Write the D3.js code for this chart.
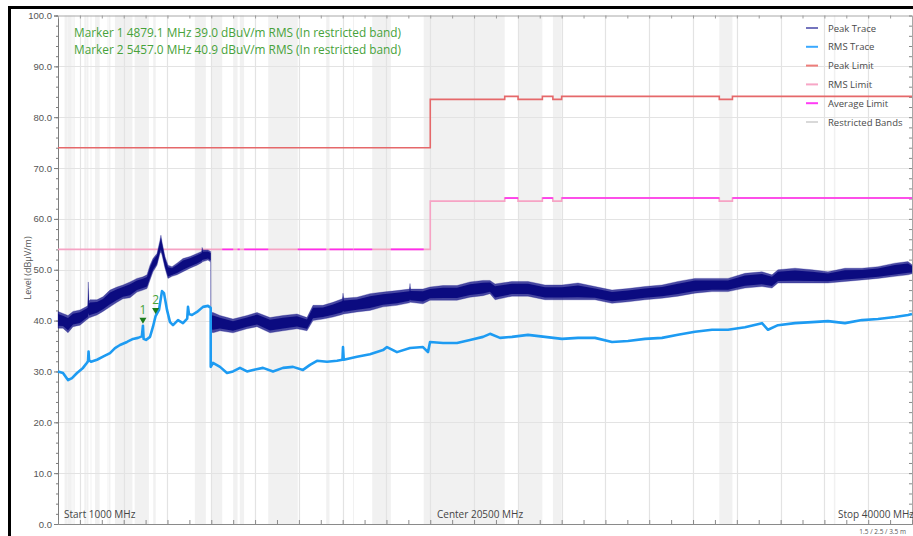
<!DOCTYPE html>
<html>
<head>
<meta charset="utf-8">
<script src="https://cdn.jsdelivr.net/npm/d3@7"></script>
<style>
  html, body { margin: 0; padding: 0; background: #fff; }
  svg { display: block; font-family: "Open Sans", "Noto Sans", "DejaVu Sans", sans-serif; }
</style>
</head>
<body>
<svg id="chart" width="913" height="536"></svg>
<script>
// ---- Sweep settings ----
const startFreq = 1000;     // MHz
const stopFreq = 40000;     // MHz
const centerFreq = 20500;   // MHz
const levelTicks = [0, 10, 20, 30, 40, 50, 60, 70, 80, 90, 100];

// ---- Restricted bands (MHz) ----
const bandStart = [1300, 1435, 1660, 1718.8, 2200, 2310, 2483.5, 2690, 3260, 3332, 3345.8, 3600, 4500, 5350, 7250, 8025, 9000, 9300, 10600, 13250, 14470, 15350, 17700, 22010, 23600, 31200, 36430];
const bandStop  = [1427, 1626.5, 1710, 1722.2, 2300, 2390, 2500, 2900, 3267, 3339, 3358, 4400, 5150, 5460, 7750, 8500, 9200, 9500, 11950, 13400, 14500, 16200, 21400, 23120, 24000, 31800, 36500];

// ---- Limit lines (step values per segment) ----
const limitBreaks = [1000, 18000, 21400, 22010, 23120, 23600, 24000, 31200, 31800, 40000];
const peakLimit   = [74.0, 83.5, 84.1, 83.5, 84.1, 83.5, 84.1, 83.5, 84.1];
const rmsLimit    = [54.0, 63.5, 64.1, 63.5, 64.1, 63.5, 64.1, 63.5, 64.1];
// Average limit, drawn outside the restricted bands
const avgStart = [8500, 9200, 9500, 11950, 13400, 14500, 16200, 21400, 23120, 24000, 31800];
const avgStop  = [9000, 9300, 10600, 13250, 14470, 15350, 17700, 22010, 23600, 31200, 40000];
const avgLevel = [54, 54, 54, 54, 54, 54, 54, 64.1, 64.1, 64.1, 64.1];

// ---- Peak trace: min / max envelope of the detector (dBuV/m) ----
const peakFreq = [1000, 1228, 1457, 1685, 2005, 2324, 2360, 2385, 2410, 2461, 2781, 3055, 3375, 3694, 3968, 4288, 4607, 4881, 5064, 5201, 5338, 5521, 5658, 5700, 5749, 5886, 6023, 6206, 6435, 6708, 7028, 7348, 7560, 7580, 7622, 7850, 7973, 7975, 8078, 8398, 8992, 9631, 10088, 10682, 11275, 11914, 12371, 12645, 13101, 13558, 13990, 14015, 14050, 14654, 15248, 15842, 16481, 17050, 17075, 17100, 17668, 17988, 18582, 19221, 19815, 20408, 20728, 20960, 21733, 22463, 23240, 24016, 24747, 25523, 26300, 27030, 27806, 28583, 29313, 30089, 30866, 31597, 32373, 33149, 33606, 33880, 34656, 35433, 36163, 36940, 37716, 38447, 39223, 39817, 40000];
const peakLow  = [38.5, 38.5, 37.6, 38.8, 39.1, 40.2, 40.3, 40.4, 40.5, 40.6, 41.1, 41.8, 42.7, 43.6, 44.3, 44.5, 45.6, 46.0, 46.3, 48.0, 49.6, 50.9, 53.2, 53.5, 52.9, 50.3, 48.3, 48.7, 49.0, 49.6, 50.3, 50.9, 51.4, 51.5, 51.6, 51.9, 51.5, 37.8, 37.6, 38.0, 37.6, 38.4, 38.8, 37.6, 38.0, 38.4, 38.0, 40.0, 40.3, 40.7, 41.2, 41.3, 41.3, 41.7, 42.0, 42.7, 43.0, 43.5, 43.6, 43.6, 43.3, 44.0, 44.0, 44.0, 44.6, 44.9, 45.3, 44.1, 44.8, 44.8, 44.1, 44.1, 44.1, 44.1, 43.4, 43.7, 44.1, 44.4, 44.8, 45.4, 45.7, 45.7, 46.4, 46.7, 46.4, 47.4, 47.4, 47.4, 47.4, 47.7, 48.0, 48.3, 48.7, 49.0, 49.2];
const peakHigh = [41.8, 41.4, 41.0, 41.8, 42.1, 42.8, 43.0, 47.6, 43.8, 44.1, 44.1, 44.7, 46.0, 46.6, 47.0, 47.6, 48.3, 48.6, 49.0, 50.9, 52.2, 53.2, 55.8, 56.8, 55.5, 52.6, 50.9, 50.6, 51.3, 52.2, 52.6, 53.2, 53.6, 54.4, 53.9, 53.9, 53.6, 41.6, 41.6, 41.0, 40.3, 41.0, 41.6, 40.6, 41.0, 41.3, 40.6, 43.0, 43.0, 43.6, 44.3, 45.4, 44.4, 44.6, 45.3, 45.6, 45.9, 46.2, 47.3, 46.2, 46.2, 46.6, 46.9, 46.9, 47.6, 47.9, 47.9, 47.2, 47.7, 47.7, 47.0, 47.0, 47.4, 46.7, 46.0, 46.3, 46.7, 47.0, 47.7, 48.3, 48.3, 48.3, 49.3, 49.6, 49.0, 50.0, 50.3, 50.0, 49.6, 50.3, 50.3, 50.6, 51.3, 51.6, 51.0];

// ---- RMS trace (dBuV/m) ----
const rmsFreq  = [1000, 1228, 1457, 1639, 1868, 2142, 2324, 2370, 2395, 2420, 2507, 2781, 3055, 3375, 3603, 3831, 4151, 4425, 4653, 4830, 4879, 4910, 5019, 5201, 5338, 5457, 5612, 5749, 5841, 5978, 6115, 6252, 6480, 6708, 6900, 6937, 6980, 7119, 7348, 7622, 7850, 7973, 7975, 8078, 8398, 8718, 8992, 9311, 9631, 9905, 10362, 10818, 11275, 11732, 12188, 12508, 12828, 13284, 13741, 13990, 14015, 14050, 14654, 15248, 15842, 16024, 16481, 17075, 17668, 17897, 17990, 18582, 19221, 19815, 20408, 20728, 21185, 21733, 22463, 23240, 24016, 24747, 25523, 26300, 27030, 27806, 28583, 29313, 30089, 30866, 31597, 32373, 33149, 33423, 33880, 34656, 35433, 36163, 36940, 37716, 38447, 39223, 39817, 40000];
const rmsLevel = [30.0, 29.7, 28.3, 28.7, 29.7, 30.7, 31.7, 32.0, 33.9, 32.2, 31.9, 32.3, 32.9, 33.6, 34.6, 35.2, 35.8, 36.4, 36.6, 36.9, 39.0, 36.4, 36.2, 36.8, 38.8, 40.9, 42.1, 45.8, 45.4, 42.1, 39.7, 39.1, 40.1, 39.5, 40.4, 42.7, 41.3, 41.1, 41.7, 42.7, 42.9, 42.5, 30.9, 31.7, 30.9, 29.7, 30.0, 30.7, 30.0, 30.3, 30.7, 30.0, 30.7, 30.9, 30.3, 31.3, 32.1, 31.9, 32.1, 32.3, 34.8, 32.3, 32.9, 33.4, 34.2, 34.8, 33.8, 34.6, 34.8, 33.8, 35.8, 35.6, 35.6, 36.2, 36.8, 37.4, 36.6, 36.8, 37.2, 36.8, 36.4, 36.6, 36.6, 35.8, 36.0, 36.4, 36.6, 37.2, 37.8, 38.2, 38.2, 38.7, 39.5, 38.2, 39.1, 39.5, 39.7, 39.9, 39.5, 40.1, 40.3, 40.7, 41.1, 41.3];

// ---- Markers ----
const markerIds   = ["1", "2"];
const markerFreq  = [4879.1, 5457.0];
const markerLevel = [39.0, 40.9];

// ---- Legend ----
const legendNames  = ["Peak Trace", "RMS Trace", "Peak Limit", "RMS Limit", "Average Limit", "Restricted Bands"];
const legendColors = ["#7474bd", "#3aa9ff", "#ee7d7a", "#f7a6c6", "#ff3cf5", "#d9d9d9"];

// ---- Colours ----
const peakColor = "#0b0b80";
const peakHaloColor = "#1c1c8c";
const rmsColor = "#1d9bf2";
const peakLimitColor = "#e5686a";
const rmsLimitColor = "#f6a3c4";
const avgLimitColor = "#ff2cf0";
const bandColor = "#f1f1f1";
const gridColor = "#e3e3e3";
const markerColor = "#1c7c1c";
const markerTextColor = "#47a23a";

const svg = d3.select("#chart");
const plot = { left: 58, right: 912, top: 15.5, bottom: 524 };

const x = d3.scaleLinear().domain([startFreq, stopFreq]).range([plot.left, plot.right]);
const y = d3.scaleLinear().domain([0, 100]).range([plot.bottom, plot.top]);

// restricted bands
svg.append("g").selectAll("rect")
  .data(d3.range(bandStart.length))
  .join("rect")
  .attr("x", i => x(bandStart[i]))
  .attr("width", i => Math.max(1, x(bandStop[i]) - x(bandStart[i])))
  .attr("y", plot.top)
  .attr("height", plot.bottom - plot.top)
  .attr("fill", bandColor);

// grid
const gridX = d3.range(2000, stopFreq, 2000);
const grid = svg.append("g").attr("stroke", gridColor).attr("stroke-width", 1.2);
grid.selectAll("line.v").data(gridX).join("line")
  .attr("x1", d => Math.round(x(d)) + 0.5).attr("x2", d => Math.round(x(d)) + 0.5)
  .attr("y1", plot.top).attr("y2", plot.bottom);
grid.selectAll("line.h").data(levelTicks.filter(d => d > 0 && d < 100)).join("line")
  .attr("y1", d => Math.round(y(d)) + 0.5).attr("y2", d => Math.round(y(d)) + 0.5)
  .attr("x1", plot.left).attr("x2", plot.right);

// axes
const minorLevels = d3.range(0, 101, 2);
const freqTicks = d3.range(2000, stopFreq, 1000);

const leftAxis = svg.append("g").attr("transform", `translate(${plot.left},0)`)
  .call(d3.axisLeft(y).tickValues(levelTicks).tickFormat(d3.format(".1f")).tickSize(4).tickPadding(2));
leftAxis.select(".domain").attr("stroke", "#7d7d7d");
leftAxis.selectAll(".tick line").attr("stroke", "#7d7d7d");
leftAxis.selectAll("text").attr("fill", "#555").style("font-size", "9.5px");

svg.append("g").attr("transform", `translate(${plot.left},0)`)
  .call(d3.axisLeft(y).tickValues(minorLevels).tickFormat("").tickSize(2))
  .call(g => g.select(".domain").remove())
  .selectAll("line").attr("stroke", "#7d7d7d");

const rightAxis = svg.append("g").attr("transform", `translate(${plot.right},0)`)
  .call(d3.axisRight(y).tickValues(minorLevels).tickFormat("").tickSize(-3));
rightAxis.select(".domain").attr("stroke", "#a8a8a8");
rightAxis.selectAll("line").attr("stroke", "#8a8a8a");

const bottomAxis = svg.append("g").attr("transform", `translate(0,${plot.bottom})`)
  .call(d3.axisBottom(x).tickValues(freqTicks).tickFormat("").tickSize(-4));
bottomAxis.select(".domain").attr("stroke", "#8a8a8a");
bottomAxis.selectAll("line").attr("stroke", "#8a8a8a");

const topAxis = svg.append("g").attr("transform", `translate(0,${plot.top})`)
  .call(d3.axisTop(x).tickValues(freqTicks).tickFormat("").tickSize(-3));
topAxis.select(".domain").attr("stroke", "#a8a8a8");
topAxis.selectAll("line").attr("stroke", "#9a9a9a");

// limit lines (step functions)
function stepPoints(values) {
  const pts = values.map((v, i) => [limitBreaks[i], v]);
  pts.push([limitBreaks[limitBreaks.length - 1], values[values.length - 1]]);
  return pts;
}
const stepLine = d3.line().x(d => x(d[0])).y(d => y(d[1])).curve(d3.curveStepAfter);

svg.append("path").datum(stepPoints(rmsLimit))
  .attr("d", stepLine).attr("fill", "none")
  .attr("stroke", rmsLimitColor).attr("stroke-width", 1.6);

svg.append("g").selectAll("line")
  .data(d3.range(avgStart.length))
  .join("line")
  .attr("x1", i => x(avgStart[i])).attr("x2", i => x(avgStop[i]))
  .attr("y1", i => y(avgLevel[i])).attr("y2", i => y(avgLevel[i]))
  .attr("stroke", avgLimitColor).attr("stroke-width", 1.6);

svg.append("path").datum(stepPoints(peakLimit))
  .attr("d", stepLine).attr("fill", "none")
  .attr("stroke", peakLimitColor).attr("stroke-width", 1.6);

// peak trace: full min/max envelope as a soft halo, denser core inside it
const peakIdx = d3.range(peakFreq.length);
const spanAt = i => peakHigh[i] - peakLow[i];
const halo = d3.area()
  .x(i => x(peakFreq[i]))
  .y0(i => y(peakLow[i]))
  .y1(i => y(peakHigh[i]));
const core = d3.area()
  .x(i => x(peakFreq[i]))
  .y0(i => y(peakLow[i] + 0.15 * spanAt(i)))
  .y1(i => y(peakHigh[i] - 0.15 * spanAt(i)));
svg.append("path").datum(peakIdx)
  .attr("d", halo)
  .attr("fill", peakHaloColor).attr("fill-opacity", 0.8)
  .attr("stroke", peakHaloColor).attr("stroke-opacity", 0.3).attr("stroke-width", 1)
  .attr("stroke-linejoin", "round");
svg.append("path").datum(peakIdx)
  .attr("d", core)
  .attr("fill", peakColor);

// rms trace
const rmsLine = d3.line()
  .x(i => x(rmsFreq[i]))
  .y(i => y(rmsLevel[i]));
svg.append("path").datum(d3.range(rmsFreq.length))
  .attr("d", rmsLine).attr("fill", "none")
  .attr("stroke", rmsColor).attr("stroke-width", 2.6)
  .attr("stroke-linejoin", "round");

// markers
const mk = svg.append("g");
markerIds.forEach((id, i) => {
  const mx = x(markerFreq[i]);
  const my = y(markerLevel[i]);
  mk.append("path")
    .attr("d", `M${mx - 3.5},${my - 8} L${mx + 3.5},${my - 8} L${mx},${my - 2} Z`)
    .attr("fill", markerColor);
  mk.append("text")
    .attr("x", mx).attr("y", my - 12)
    .attr("text-anchor", "middle")
    .attr("fill", markerTextColor)
    .style("font-size", "12px")
    .text(id);
});

// marker readout
const readout = markerIds.map((id, i) =>
  `Marker ${id} ${markerFreq[i].toFixed(1)} MHz ${markerLevel[i].toFixed(1)} dBuV/m RMS (In restricted band)`);
svg.append("g").selectAll("text").data(readout).join("text")
  .attr("x", 74).attr("y", (d, i) => 37 + i * 17)
  .attr("fill", markerTextColor)
  .attr("textLength", 327).attr("lengthAdjust", "spacingAndGlyphs")
  .style("font-size", "12px")
  .text(d => d);

// legend
const lg = svg.append("g");
legendNames.forEach((name, i) => {
  const ly = 28 + i * 18.8;
  lg.append("line")
    .attr("x1", 806).attr("x2", 818).attr("y1", ly).attr("y2", ly)
    .attr("stroke", legendColors[i]).attr("stroke-width", 2);
  lg.append("text")
    .attr("x", 828).attr("y", ly + 3.5)
    .attr("fill", "#4a4a4a")
    .style("font-size", "9.5px")
    .text(name);
});

// y-axis title
svg.append("text")
  .attr("transform", "translate(31,268) rotate(-90)")
  .attr("text-anchor", "middle")
  .attr("fill", "#555")
  .style("font-size", "9px")
  .text("Level (dBμV/m)");

// frequency annotations
const fLabels = [
  { t: `Start ${startFreq} MHz`, x: 64 },
  { t: `Center ${centerFreq} MHz`, x: 437 },
  { t: `Stop ${stopFreq} MHz`, x: 838 }
];
svg.append("g").selectAll("text").data(fLabels).join("text")
  .attr("x", d => d.x).attr("y", 518)
  .attr("fill", "#444")
  .style("font-size", "10px")
  .text(d => d.t);

svg.append("text")
  .attr("x", 906).attr("y", 533.5)
  .attr("text-anchor", "end")
  .attr("fill", "#555")
  .style("font-size", "6.5px")
  .text("1.5 / 2.5 / 3.5 m");

// outer frame
svg.append("path")
  .attr("d", "M9.5,536 V7.5 H913")
  .attr("fill", "none")
  .attr("stroke", "#000")
  .attr("stroke-width", 3);
</script>
</body>
</html>
